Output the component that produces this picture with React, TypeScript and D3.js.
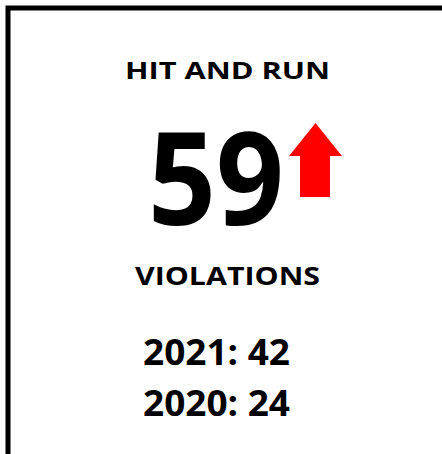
import React from "react";
import * as d3 from "d3";

const title = "HIT AND RUN";
const currentValue = 59;
const unitLabel = "VIOLATIONS";
const years = ["2021", "2020"];
const yearValues = [42, 24];
const trend = "up";

const W = 442;
const H = 454;
const FONT = "'Open Sans', 'Noto Sans', sans-serif";

export default function App() {
  const rowY = d3.scalePoint<string>().domain(years).range([365, 416]);
  const arrow = d3.path();
  // arrow shape (up)
  const ax0 = 289, ax1 = 342, atop = 123, ashoulder = 156, sx0 = 300, sx1 = 330, abot = 197;
  arrow.moveTo((ax0 + ax1) / 2, atop);
  arrow.lineTo(ax1, ashoulder);
  arrow.lineTo(sx1, ashoulder);
  arrow.lineTo(sx1, abot);
  arrow.lineTo(sx0, abot);
  arrow.lineTo(sx0, ashoulder);
  arrow.lineTo(ax0, ashoulder);
  arrow.closePath();

  return (
    <svg
      width={W}
      height={H}
      style={{ position: "absolute", left: 0, top: 0, background: "#fff" }}
      fontFamily={FONT}
      fontWeight={700}
    >
      <rect x={0} y={0} width={W} height={H} fill="#fff" />
      <rect x={8} y={8} width={W + 20} height={H + 20} fill="none" stroke="#000" strokeWidth={5} />
      <text x={125} y={79} fontSize={24} textLength={205} lengthAdjust="spacingAndGlyphs" fill="#000">
        {title}
      </text>
      <text x={148} y={225} fontSize={129} textLength={136} lengthAdjust="spacingAndGlyphs" fill="#000">
        {String(currentValue)}
      </text>
      {trend === "up" && <path d={arrow.toString()} fill="#ff0000" />}
      <text x={135} y={285} fontSize={25} textLength={185} lengthAdjust="spacingAndGlyphs" fill="#000">
        {unitLabel}
      </text>
      {years.map((y, i) => (
        <text
          key={y}
          x={143}
          y={rowY(y)}
          fontSize={35}
          textLength={147}
          lengthAdjust="spacingAndGlyphs"
          fill="#000"
        >
          {`${y}: ${yearValues[i]}`}
        </text>
      ))}
    </svg>
  );
}
